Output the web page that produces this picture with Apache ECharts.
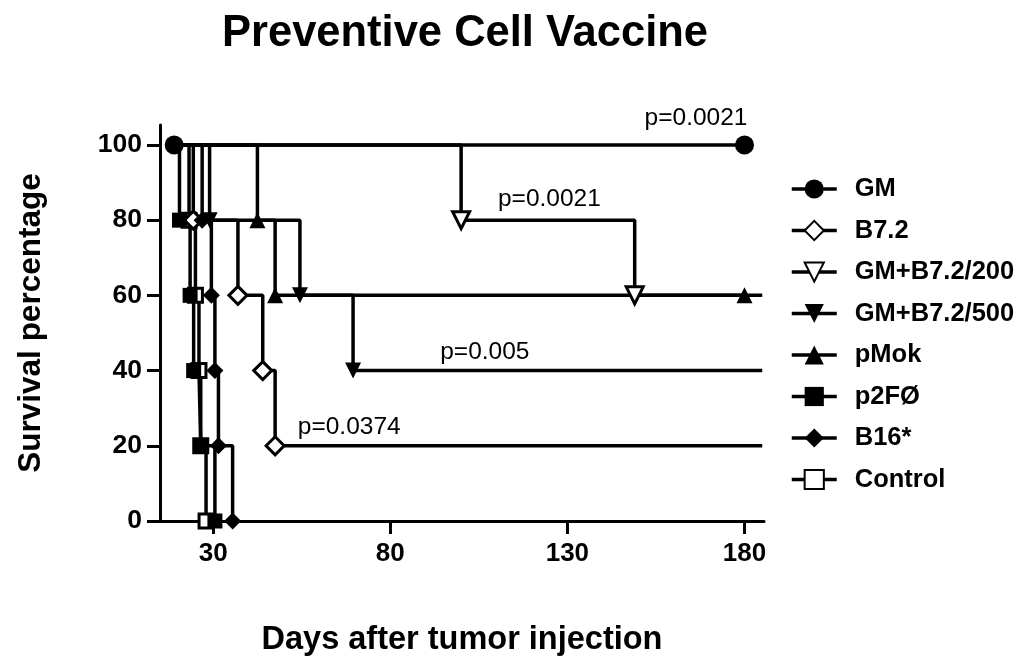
<!DOCTYPE html>
<html>
<head>
<meta charset="utf-8">
<title>Preventive Cell Vaccine</title>
<script src="https://cdn.jsdelivr.net/npm/echarts@6/dist/echarts.min.js"></script>
<style>
html, body { margin: 0; padding: 0; background: #fff; }
#main { width: 1024px; height: 666px; }
</style>
</head>
<body>
<div id="main"></div>
<script>
// Kaplan-Meier steps: day of each event and survival after it
var gmDays = [19, 180];
var gmSurv = [100, 100];
var b72Days = [19, 24.4, 37, 44, 47.5, 185];
var b72Surv = [100, 80, 60, 40, 20, 20];
var gm200Days = [19, 100, 149, 185];
var gm200Surv = [100, 80, 60, 60];
var gm500Days = [19, 29, 54.5, 69.5, 185];
var gm500Surv = [100, 80, 60, 40, 40];
var pmokDays = [19, 42.5, 47.5, 180];
var pmokSurv = [100, 80, 60, 60];
var p2fDays = [19, 20.5, 23.5, 24.5, 26.5, 30.5];
var p2fSurv = [100, 80, 60, 40, 20, 0];
var b16Days = [19, 26.9, 29.5, 30.5, 31.5, 35.5];
var b16Surv = [100, 80, 60, 40, 20, 0];
var ctrlDays = [19, 23.2, 25, 26, 26.5, 28];
var ctrlSurv = [100, 80, 60, 40, 20, 0];

var xTicks = [30, 80, 130, 180];
var yTicks = [0, 20, 40, 60, 80, 100];

// p-value notes (left edge day, survival at text middle)
var pTexts = ['p=0.0021', 'p=0.0021', 'p=0.005', 'p=0.0374'];
var pDays = [151.8, 110.4, 94.1, 53.9];
var pSurv = [107, 85.6, 45, 25];

var font = 'Liberation Sans, Arial, sans-serif';

// symbol only where the curve drops, plus optional first / last point
function buildData(days, surv, markStart, markEnd) {
    return days.map(function(d, i) {
        var show = (i > 0 && surv[i] < surv[i - 1]) ||
            (i === 0 && markStart) || (i === days.length - 1 && markEnd);
        return show ? [d, surv[i]] : { value: [d, surv[i]], symbol: 'none' };
    });
}

function curve(name, days, surv, symbol, size, open, rotate, markStart, markEnd) {
    return {
        name: name,
        type: 'line',
        step: 'end',
        data: buildData(days, surv, markStart, markEnd),
        symbol: symbol,
        symbolSize: size,
        symbolRotate: rotate || 0,
        showAllSymbol: true,
        lineStyle: { color: '#000', width: 3.5 },
        itemStyle: open ? { color: '#fff', borderColor: '#000', borderWidth: 3 } :
            { color: '#000', borderColor: '#000', borderWidth: 0 },
        emphasis: { disabled: true }
    };
}

var myChart = echarts.init(document.getElementById('main'));

var option = {
    animation: false,
    backgroundColor: '#fff',
    title: {
        text: 'Preventive Cell Vaccine',
        left: 217,
        top: 7,
        textStyle: { fontFamily: font, fontWeight: 'bold', fontSize: 43.5, color: '#000' }
    },
    legend: {
        orient: 'vertical',
        left: 785,
        top: 171,
        itemWidth: 45,
        itemHeight: 24,
        itemGap: 15.5,
        lineStyle: { width: 3.5, color: '#000' },
        textStyle: { fontFamily: font, fontWeight: 'bold', fontSize: 25.5, color: '#000',
            lineHeight: 26, padding: [0, 0, 0, 13] },
        data: ['GM', 'B7.2', 'GM+B7.2/200', 'GM+B7.2/500', 'pMok', 'p2FØ', 'B16*', 'Control']
    },
    grid: { left: 160, right: 260, top: 125, bottom: 145 },
    xAxis: {
        type: 'value',
        min: 15,
        max: 185.5,
        name: 'Days after tumor injection',
        nameLocation: 'middle',
        nameGap: 103,
        nameTextStyle: { fontFamily: font, fontWeight: 'bold', fontSize: 32.5, color: '#000' },
        axisLine: { lineStyle: { color: '#000', width: 3 } },
        axisTick: { customValues: xTicks, length: 13, lineStyle: { color: '#000', width: 3 } },
        axisLabel: { customValues: xTicks, margin: 20, fontFamily: font, fontWeight: 'bold', fontSize: 26, color: '#000' },
        splitLine: { show: false }
    },
    yAxis: {
        type: 'value',
        min: 0,
        max: 105.3,
        name: 'Survival percentage',
        nameLocation: 'middle',
        nameGap: 113,
        nameTextStyle: { fontFamily: font, fontWeight: 'bold', fontSize: 31.5, color: '#000' },
        axisLine: { show: true, lineStyle: { color: '#000', width: 3 } },
        axisTick: { show: true, customValues: yTicks, length: 13, lineStyle: { color: '#000', width: 3 } },
        axisLabel: { customValues: yTicks, margin: 18, fontFamily: font, fontWeight: 'bold', fontSize: 26.5, color: '#000' },
        splitLine: { show: false }
    },
    // open symbols underneath, filled ones on top
    series: [
        curve('Control', ctrlDays, ctrlSurv, 'rect', 14, true, 0, false, false),
        curve('B7.2', b72Days, b72Surv, 'diamond', 18, true, 0, false, false),
        curve('GM+B7.2/200', gm200Days, gm200Surv, 'triangle', 17, true, 180, false, false),
        curve('pMok', pmokDays, pmokSurv, 'triangle', 16, false, 0, false, true),
        curve('GM+B7.2/500', gm500Days, gm500Surv, 'triangle', 16, false, 180, false, false),
        curve('p2FØ', p2fDays, p2fSurv, 'rect', 15, false, 0, false, false),
        curve('B16*', b16Days, b16Surv, 'diamond', 17, false, 0, false, false),
        curve('GM', gmDays, gmSurv, 'circle', 19, false, 0, true, true)
    ]
};

myChart.setOption(option);

// p-value labels placed through the chart's own scales
var notes = pTexts.map(function(t, i) {
    var pt = myChart.convertToPixel({ gridIndex: 0 }, [pDays[i], pSurv[i]]);
    return {
        type: 'text',
        x: pt[0],
        y: pt[1],
        style: { text: t, fill: '#000', font: '24.5px ' + font, textVerticalAlign: 'middle' }
    };
});
myChart.setOption({ graphic: notes });
</script>
</body>
</html>
